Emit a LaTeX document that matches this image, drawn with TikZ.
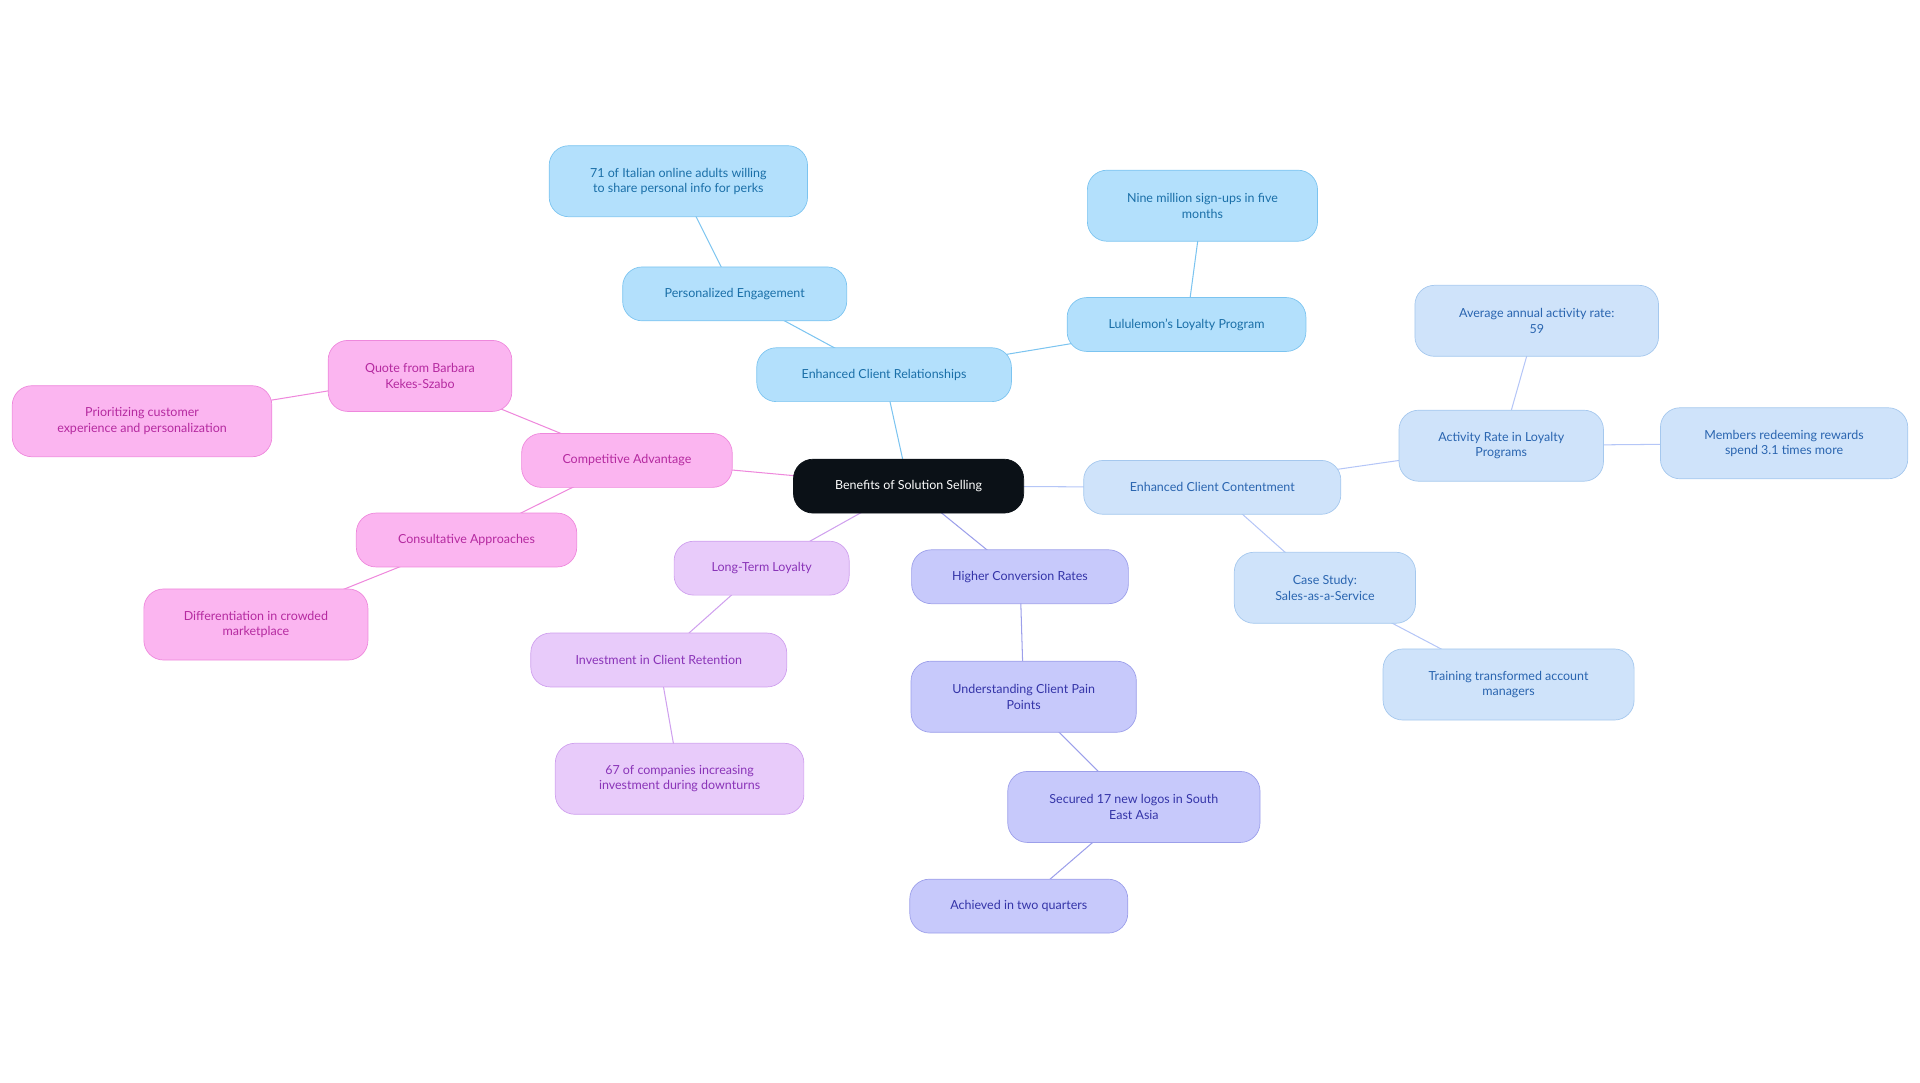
\documentclass[tikz,border=0pt]{standalone}
\usepackage{fontspec}
\setmainfont{Lato}
\usetikzlibrary{backgrounds}
\definecolor{bluefill}{HTML}{B3E0FC}\definecolor{bluedraw}{HTML}{7CC4F0}\definecolor{bluetext}{HTML}{1A6FA8}
\definecolor{skyfill}{HTML}{CFE3FA}\definecolor{skydraw}{HTML}{A5C8EE}\definecolor{skytext}{HTML}{2A65B0}
\definecolor{perifill}{HTML}{C7C9FB}\definecolor{peridraw}{HTML}{9C9FEA}\definecolor{peritext}{HTML}{3434A8}
\definecolor{lavfill}{HTML}{E8CBFA}\definecolor{lavdraw}{HTML}{CFA0EE}\definecolor{lavtext}{HTML}{8A34B8}
\definecolor{pinkfill}{HTML}{FBB5F0}\definecolor{pinkdraw}{HTML}{EE88DC}\definecolor{pinktext}{HTML}{B52AA0}
\definecolor{rootfill}{HTML}{0B1117}
\tikzset{
  box/.style={rounded corners=0.8cm, align=center, inner sep=0pt, line width=0.8pt,
    font=\fontsize{14.5}{18}\selectfont, minimum height=2.2cm},
  tall/.style={minimum height=2.9cm},
  rootbox/.style={box, fill=rootfill, draw=rootfill, text=white},
  ecrbox/.style={box, fill=bluefill, draw=bluedraw, text=bluetext},
  eccbox/.style={box, fill=skyfill, draw=skydraw, text=skytext},
  hcrbox/.style={box, fill=perifill, draw=peridraw, text=peritext},
  ltlbox/.style={box, fill=lavfill, draw=lavdraw, text=lavtext},
  cabox/.style={box, fill=pinkfill, draw=pinkdraw, text=pinktext},
  link/.style={line width=1.2pt}
}
\begin{document}
\begin{tikzpicture}[x=0.05cm, y=-0.05cm]
    \useasboundingbox (0,0) rectangle (1568,884.4);
    \node[rootbox, minimum width=9.4cm] (root) at (742,397) {Benefits of Solution Selling};
    % client relationships
    \node[ecrbox, minimum width=10.4cm] (ecr) at (722,306) {Enhanced Client Relationships};
    \node[ecrbox, minimum width=9.15cm] (pe) at (600,240) {Personalized Engagement};
    \node[ecrbox, tall, minimum width=10.55cm] (italy) at (554,148) {71 of Italian online adults willing\\to share personal info for perks};
    \node[ecrbox, minimum width=9.75cm] (lulu) at (969,265) {Lululemon's Loyalty Program};
    \node[ecrbox, tall, minimum width=9.4cm] (nine) at (982,168) {Nine million sign-ups in five\\months};
    % client contentment
    \node[eccbox, minimum width=10.5cm] (ecc) at (990,398) {Enhanced Client Contentment};
    \node[eccbox, tall, minimum width=8.35cm] (rate) at (1226,364) {Activity Rate in Loyalty\\Programs};
    \node[eccbox, tall, minimum width=9.95cm] (avg) at (1255,262) {Average annual activity rate:\\59};
    \node[eccbox, tall, minimum width=10.1cm] (members) at (1457,362) {Members redeeming rewards\\spend 3.1 times more};
    \node[eccbox, tall, minimum width=7.4cm] (study) at (1082,480) {Case Study:\\Sales-as-a-Service};
    \node[eccbox, tall, minimum width=10.25cm] (train) at (1232,559) {Training transformed account\\managers};
    % conversion
    \node[hcrbox, minimum width=8.85cm] (hcr) at (833,471) {Higher Conversion Rates};
    \node[hcrbox, tall, minimum width=9.2cm] (pain) at (836,569) {Understanding Client Pain\\Points};
    \node[hcrbox, tall, minimum width=10.3cm] (logos) at (926,659) {Secured 17 new logos in South\\East Asia};
    \node[hcrbox, minimum width=8.9cm] (quarters) at (832,740) {Achieved in two quarters};
    % loyalty
    \node[ltlbox, minimum width=7.15cm] (ltl) at (622,464) {Long-Term Loyalty};
    \node[ltlbox, minimum width=10.45cm] (invest) at (538,539) {Investment in Client Retention};
    \node[ltlbox, tall, minimum width=10.15cm] (downturn) at (555,636) {67 of companies increasing\\investment during downturns};
    % competitive advantage
    \node[cabox, minimum width=8.6cm] (ca) at (512,376) {Competitive Advantage};
    \node[cabox, tall, minimum width=7.5cm] (quote) at (343,307) {Quote from Barbara\\Kekes-Szabo};
    \node[cabox, tall, minimum width=10.6cm] (prio) at (116,344) {Prioritizing customer\\experience and personalization};
    \node[cabox, minimum width=9cm] (consult) at (381,441) {Consultative Approaches};
    \node[cabox, tall, minimum width=9.15cm] (diff) at (209,510) {Differentiation in crowded\\marketplace};
    \begin{scope}[on background layer]
      \draw[link, bluedraw] (root.center) -- (ecr.center) -- (pe.center) -- (italy.center);
      \draw[link, bluedraw] (ecr.center) -- (lulu.center) -- (nine.center);
      \draw[link, skydraw!80!blue!60] (root.center) -- (ecc.center) -- (rate.center) -- (avg.center);
      \draw[link, skydraw!80!blue!60] (rate.center) -- (members.center);
      \draw[link, skydraw!80!blue!60] (ecc.center) -- (study.center) -- (train.center);
      \draw[link, peridraw] (root.center) -- (hcr.center) -- (pain.center) -- (logos.center) -- (quarters.center);
      \draw[link, lavdraw] (root.center) -- (ltl.center) -- (invest.center) -- (downturn.center);
      \draw[link, pinkdraw] (root.center) -- (ca.center) -- (quote.center) -- (prio.center);
      \draw[link, pinkdraw] (ca.center) -- (consult.center) -- (diff.center);
    \end{scope}
\end{tikzpicture}
\end{document}
